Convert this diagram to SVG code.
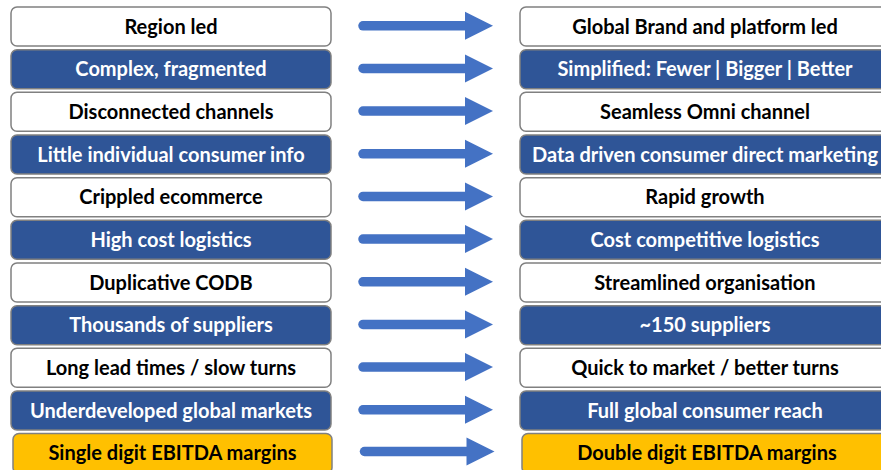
<svg xmlns="http://www.w3.org/2000/svg" xmlns:xlink="http://www.w3.org/1999/xlink" width="881" height="470" viewBox="0 0 881 470">
  <style>
    .box { stroke: #808080; stroke-width: 1.5; }
    .light { fill: #FFFFFF; }
    .dark { fill: #2F5597; }
    .gold { fill: #FFC000; }
    .lbl { font-family: Lato, "Open Sans", "Liberation Sans", sans-serif; font-weight: bold; font-size: 20px; text-anchor: middle; }
    .ink { fill: #000000; }
    .rev { fill: #FFFFFF; }
    .shaft { stroke: #4472C4; stroke-width: 9.5; stroke-linecap: round; fill: none; }
    .head { fill: #4472C4; }
  </style>
  <defs>
    <!-- right-pointing block arrow, origin at the shaft's centre line -->
    <g id="arrow">
      <line class="shaft" x1="363" y1="0" x2="466" y2="0"/>
      <polygon class="head" points="465,-14 493,0 465,14"/>
    </g>
  </defs>

  <rect width="881" height="470" fill="#FFFFFF"/>

  <!-- left column: current state -->
  <g id="from-1"><rect class="box light" x="11" y="7" width="320" height="39" rx="6"/><text class="lbl ink" x="171" y="33.5">Region led</text></g>
  <g id="from-2"><rect class="box dark" x="11" y="49.7" width="320" height="39" rx="6"/><text class="lbl rev" x="171" y="76.2">Complex, fragmented</text></g>
  <g id="from-3"><rect class="box light" x="11" y="92.3" width="320" height="39" rx="6"/><text class="lbl ink" x="171" y="118.8">Disconnected channels</text></g>
  <g id="from-4"><rect class="box dark" x="11" y="135" width="320" height="39" rx="6"/><text class="lbl rev" x="171" y="161.5">Little individual consumer info</text></g>
  <g id="from-5"><rect class="box light" x="11" y="177.7" width="320" height="39" rx="6"/><text class="lbl ink" x="171" y="204.2">Crippled ecommerce</text></g>
  <g id="from-6"><rect class="box dark" x="11" y="220.3" width="320" height="39" rx="6"/><text class="lbl rev" x="171" y="246.8">High cost logistics</text></g>
  <g id="from-7"><rect class="box light" x="11" y="263" width="320" height="39" rx="6"/><text class="lbl ink" x="171" y="289.5">Duplicative CODB</text></g>
  <g id="from-8"><rect class="box dark" x="11" y="305.7" width="320" height="39" rx="6"/><text class="lbl rev" x="171" y="332.2">Thousands of suppliers</text></g>
  <g id="from-9"><rect class="box light" x="11" y="348.3" width="320" height="39" rx="6"/><text class="lbl ink" x="171" y="374.8">Long lead times / slow turns</text></g>
  <g id="from-10"><rect class="box dark" x="11" y="391" width="320" height="39" rx="6"/><text class="lbl rev" x="171" y="417.5">Underdeveloped global markets</text></g>
  <g id="from-11"><rect class="box gold" x="13" y="433.5" width="319" height="40" rx="6"/><text class="lbl ink" x="172.5" y="460">Single digit EBITDA margins</text></g>

  <!-- right column: target state -->
  <g id="to-1"><rect class="box light" x="520" y="7" width="372" height="39" rx="6"/><text class="lbl ink" x="705" y="33.5">Global Brand and platform led</text></g>
  <g id="to-2"><rect class="box dark" x="520" y="49.7" width="372" height="39" rx="6"/><text class="lbl rev" x="705" y="76.2">Simplified: Fewer | Bigger | Better</text></g>
  <g id="to-3"><rect class="box light" x="520" y="92.3" width="372" height="39" rx="6"/><text class="lbl ink" x="705" y="118.8">Seamless Omni channel</text></g>
  <g id="to-4"><rect class="box dark" x="520" y="135" width="372" height="39" rx="6"/><text class="lbl rev" x="705" y="161.5">Data driven consumer direct marketing</text></g>
  <g id="to-5"><rect class="box light" x="520" y="177.7" width="372" height="39" rx="6"/><text class="lbl ink" x="705" y="204.2">Rapid growth</text></g>
  <g id="to-6"><rect class="box dark" x="520" y="220.3" width="372" height="39" rx="6"/><text class="lbl rev" x="705" y="246.8">Cost competitive logistics</text></g>
  <g id="to-7"><rect class="box light" x="520" y="263" width="372" height="39" rx="6"/><text class="lbl ink" x="705" y="289.5">Streamlined organisation</text></g>
  <g id="to-8"><rect class="box dark" x="520" y="305.7" width="372" height="39" rx="6"/><text class="lbl rev" x="705" y="332.2">~150 suppliers</text></g>
  <g id="to-9"><rect class="box light" x="520" y="348.3" width="372" height="39" rx="6"/><text class="lbl ink" x="705" y="374.8">Quick to market / better turns</text></g>
  <g id="to-10"><rect class="box dark" x="520" y="391" width="372" height="39" rx="6"/><text class="lbl rev" x="705" y="417.5">Full global consumer reach</text></g>
  <g id="to-11"><rect class="box gold" x="522" y="433.5" width="370" height="40" rx="6"/><text class="lbl ink" x="707" y="460">Double digit EBITDA margins</text></g>

  <!-- connectors -->
  <g id="connectors">
    <use xlink:href="#arrow" y="25.8"/>
    <use xlink:href="#arrow" y="68.4"/>
    <use xlink:href="#arrow" y="111.1"/>
    <use xlink:href="#arrow" y="153.8"/>
    <use xlink:href="#arrow" y="196.4"/>
    <use xlink:href="#arrow" y="239.1"/>
    <use xlink:href="#arrow" y="281.8"/>
    <use xlink:href="#arrow" y="324.4"/>
    <use xlink:href="#arrow" y="367.1"/>
    <use xlink:href="#arrow" y="409.8"/>
    <use xlink:href="#arrow" x="1.5" y="451.5"/>
  </g>
</svg>
